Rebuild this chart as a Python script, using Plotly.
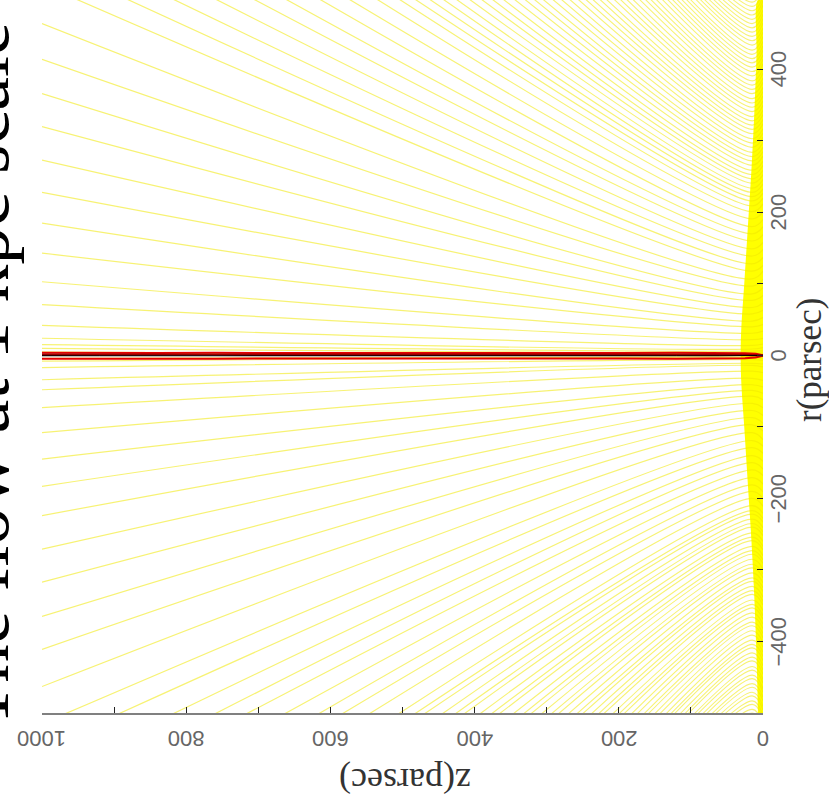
import plotly.graph_objects as go

# Streamline stations along the outflow axis z (parsec)
Z_STATIONS = [0, 15, 1000]

# Upper-half streamlines (r > 0): radius at the disk (z=0), at the knee (z=15) and at z=1000
upper_foot = [3, 5, 7, 11, 16, 24, 34, 43, 53, 63, 73, 84, 95, 106, 118,
              126, 137, 148, 158, 169, 180, 190, 201, 212, 220,
              227, 233, 240, 246, 253, 259, 266, 272, 279, 285,
              291, 298, 305, 311, 317, 324, 330, 337, 343, 350,
              356, 363, 369, 375, 382, 388, 395, 401, 408, 414,
              420, 427, 433, 439, 446, 452, 458, 465, 471, 477,
              483, 490, 496, 502, 508, 515, 521]
upper_knee = [2, 4, 6, 9, 14, 22, 31, 40, 48, 58, 67, 77, 86, 97, 107,
              118, 128, 139, 149, 160, 170, 180, 191, 201, 209,
              216, 222, 228, 234, 241, 247, 253, 259, 266, 272,
              278, 284, 291, 297, 303, 310, 316, 322, 328, 334,
              341, 347, 353, 359, 366, 372, 378, 384, 391, 397,
              403, 409, 415, 421, 427, 434, 440, 446, 452, 458,
              464, 470, 476, 482, 488, 494, 500]
upper_far = [5, 10, 15, 24, 42, 71, 103, 143, 185, 228, 273, 320, 366, 414, 464,
             519, 553, 587, 622, 656, 688, 725, 759, 796, 828,
             851, 874, 898, 921, 944, 967, 990, 1013, 1036, 1060,
             1082, 1105, 1128, 1151, 1174, 1196, 1218, 1240, 1262, 1284,
             1306, 1328, 1350, 1372, 1394, 1416, 1437, 1458, 1479, 1500,
             1516, 1532, 1548, 1564, 1570, 1586, 1592, 1598, 1614, 1620,
             1626, 1632, 1648, 1654, 1660, 1666, 1682]

# Lower-half streamlines (r < 0)
lower_foot = [-2, -4, -7, -12, -16, -24, -35, -44, -53, -62, -73, -84, -95, -106, -118,
              -127, -137, -148, -159, -168, -180, -191, -200, -211, -221,
              -228, -233, -241, -247, -252, -260, -267, -272, -280, -286,
              -291, -299, -306, -311, -318, -325, -330, -338, -344, -349,
              -357, -364, -369, -376, -382, -389, -395, -402, -408, -415,
              -421, -427, -434, -440, -446, -453, -458, -466, -471, -478,
              -483, -491, -496, -503, -508, -516, -521]
lower_knee = [-2, -3, -6, -11, -14, -22, -32, -41, -49, -57, -67, -77, -87, -97, -108,
              -119, -129, -140, -150, -160, -171, -181, -190, -200, -210,
              -217, -222, -229, -235, -240, -248, -254, -259, -267, -273,
              -278, -285, -292, -297, -304, -311, -316, -323, -329, -334,
              -342, -348, -353, -360, -366, -373, -378, -385, -391, -398,
              -404, -409, -416, -422, -427, -435, -440, -447, -452, -459,
              -464, -471, -476, -483, -488, -495, -500]
lower_far = [-4, -8, -17, -34, -48, -73, -108, -145, -183, -224, -271, -317, -365, -411, -463,
             -515, -550, -590, -625, -652, -690, -728, -755, -790, -832,
             -856, -870, -902, -925, -940, -970, -995, -1010, -1040, -1064,
             -1080, -1108, -1132, -1150, -1178, -1200, -1215, -1244, -1266, -1280,
             -1310, -1332, -1348, -1376, -1395, -1420, -1436, -1460, -1478, -1503,
             -1518, -1530, -1550, -1566, -1570, -1588, -1590, -1600, -1612, -1622,
             -1625, -1635, -1646, -1656, -1658, -1668, -1680]

# Where the streamlines pile up over the disk: saturated core (z extent vs r)
band_r = [-500, -420, -340, -260, -180, -100, -40, 0, 40, 100, 180, 260, 340, 420, 497]
band_core_z = [7, 9, 12, 16, 21, 26, 30, 31, 30, 26, 21, 16, 12, 9, 7]

# Jet core lines hugging the axis
z_axis = [0, 4, 10, 25, 60, 120, 200, 280, 360, 440, 520, 600, 680, 760, 840, 920, 1000]
red_upper = [0.3, 1.0, 2.2, 3.0, 3.4, 3.6, 3.3, 3.6, 3.8, 3.5, 3.4, 3.7, 3.5, 3.6, 3.4, 3.5, 3.6]
red_lower = [-0.3, -1.2, -2.8, -3.8, -4.4, -4.6, -4.4, -4.2, -4.5, -4.3, -4.6, -4.4, -4.2, -4.5, -4.4, -4.6, -4.5]
darkred_mid = [0.0, 0.2, 0.5, 0.8, 1.0, 0.9, 1.1, 1.0, 0.8, 1.0, 1.2, 1.0, 0.9, 1.1, 1.0, 1.0, 1.0]
black_core = [0.0, -0.1, -0.3, -0.4, -0.5, -0.5, -0.4, -0.5, -0.5, -0.4, -0.5, -0.5, -0.4, -0.5, -0.5, -0.5, -0.5]

z_ticks = list(range(0, 1001, 100))
z_labels = [0, 200, 400, 600, 800, 1000]
r_ticks = list(range(-500, 501, 100))
r_labels = [-400, -200, 0, 200, 400]

LINE_YELLOW = "rgba(240,232,0,0.55)"

# plot-area geometry in pixels (used to place rotated labels)
PX_L, PX_R, PX_B = 42, 763, 713


def px_to_paper_x(px):
    return (px - PX_L) / (PX_R - PX_L)


def px_to_paper_y(py):
    return (PX_B - py) / PX_B


def bundle(foot, knee, far):
    xs, ys = [], []
    for a, b, c in zip(foot, knee, far):
        xs += Z_STATIONS + [None]
        ys += [a, b, c, None]
    return go.Scatter(x=xs, y=ys, mode="lines", hoverinfo="skip", showlegend=False,
                      line=dict(color=LINE_YELLOW, width=1.2, shape="spline", smoothing=0.9))


fig = go.Figure()

fig.add_trace(go.Scatter(x=band_core_z + [0, 0], y=band_r + [497, -500], mode="lines",
                         fill="toself", fillcolor="rgb(255,255,0)",
                         line=dict(width=0, shape="spline"),
                         hoverinfo="skip", showlegend=False))

fig.add_trace(bundle(upper_foot, upper_knee, upper_far))
fig.add_trace(bundle(lower_foot, lower_knee, lower_far))

for rv, col, w in [(red_upper, "rgb(230,0,0)", 2.0), (red_lower, "rgb(230,0,0)", 2.0),
                   (darkred_mid, "rgb(150,0,0)", 2.4), (black_core, "black", 1.0)]:
    fig.add_trace(go.Scatter(x=z_axis, y=rv, mode="lines", hoverinfo="skip", showlegend=False,
                             line=dict(color=col, width=w)))

fig.update_layout(
    width=829, height=806,
    margin=dict(l=PX_L, r=829 - PX_R, t=0, b=806 - PX_B),
    paper_bgcolor="white", plot_bgcolor="white",
    xaxis=dict(range=[1000, 0], tickvals=z_ticks, ticks="inside", ticklen=6, tickcolor="#222",
               showticklabels=False, showline=True, linecolor="#808080", linewidth=2,
               showgrid=False, zeroline=False),
    xaxis2=dict(range=[1000, 0], overlaying="x", side="top", tickvals=z_ticks, ticks="inside",
                ticklen=7, tickcolor="#222", showticklabels=False, showline=False,
                showgrid=False, zeroline=False),
    yaxis=dict(range=[-500, 497], side="right", tickvals=r_ticks, ticks="inside", ticklen=6,
               tickcolor="#222", showticklabels=False, showline=False,
               showgrid=False, zeroline=False),
    yaxis2=dict(range=[-500, 497], overlaying="y", side="left", tickvals=r_ticks, ticks="inside",
                ticklen=10, tickcolor="#222", showticklabels=False, showline=True,
                linecolor="#808080", linewidth=2, showgrid=False, zeroline=False),
)

tickfont = dict(family="Liberation Sans", size=22, color="#666")
for v in z_labels:
    fig.add_annotation(text=str(v), xref="x", x=v, yref="paper", y=px_to_paper_y(739),
                       xanchor="center", yanchor="middle", textangle=180, showarrow=False,
                       font=tickfont)
for v in r_labels:
    label = "\u2212" + str(-v) if v < 0 else str(v)
    fig.add_annotation(text=label, xref="paper", x=px_to_paper_x(778), yref="y", y=v,
                       xanchor="center", yanchor="middle", textangle=-90, showarrow=False,
                       font=tickfont)

serif = "Liberation Serif"
# Large title, mostly running off the left edge of the page
fig.add_annotation(text="The flow at 1 kpc scale", xref="paper", yref="paper",
                   x=px_to_paper_x(-35), y=px_to_paper_y(376), xanchor="center", yanchor="middle",
                   xshift=17, textangle=-90, showarrow=False,
                   font=dict(family=serif, size=76, color="black"))
fig.add_annotation(text="z(parsec)", xref="paper", yref="paper",
                   x=px_to_paper_x(405), y=px_to_paper_y(781), xanchor="center", yanchor="middle",
                   textangle=180, showarrow=False, font=dict(family=serif, size=36, color="#333"))
fig.add_annotation(text="r(parsec)", xref="paper", yref="paper",
                   x=px_to_paper_x(809), y=px_to_paper_y(360), xanchor="center", yanchor="middle",
                   textangle=-90, showarrow=False, font=dict(family=serif, size=35, color="#333"))

fig.write_html("out.html")
